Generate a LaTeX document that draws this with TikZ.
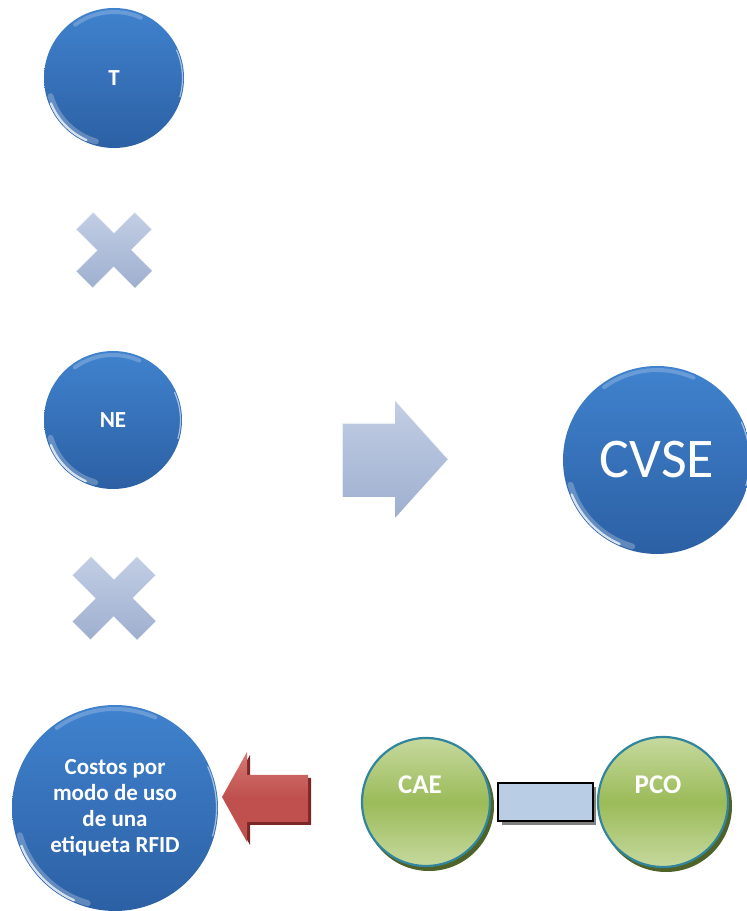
\documentclass[tikz,border=0pt]{standalone}
\usepackage{fontspec}
\setmainfont{Carlito}
\usetikzlibrary{calc}

\definecolor{bluetop}{RGB}{64,130,206}
\definecolor{bluebot}{RGB}{44,96,164}
\definecolor{steeltop}{RGB}{194,206,228}
\definecolor{steelbot}{RGB}{158,175,207}
\definecolor{redtop}{RGB}{214,120,116}
\definecolor{redmid}{RGB}{192,80,77}
\definecolor{redshadow}{RGB}{122,40,38}
\definecolor{greenlight}{RGB}{198,217,158}
\definecolor{greenmid}{RGB}{155,187,89}
\definecolor{greenrim}{RGB}{49,133,156}
\definecolor{greenshadow}{RGB}{79,98,40}
\definecolor{linkfill}{RGB}{185,205,229}

\tikzset{
  bluedisc/.style={circle, inner sep=0pt, text=white, align=center,
    top color=bluetop, bottom color=bluebot, draw=none},
  greendisc/.style={circle, inner sep=0pt, text=white,
    top color=greenlight, bottom color=greenlight, middle color=greenmid,
    draw=greenrim, line width=2.2pt},
  rimlight/.style={white, line cap=round},
  crossface/.style={top color=steeltop, bottom color=steelbot},
}

% glossy rim highlights on a blue disc: #1 centre, #2 radius
\newcommand\glossyrim[2]{%
  \begin{scope}[shift={(#1)}]
    \draw[rimlight, line width=6pt, opacity=0.25] (196:#2-4) arc[start angle=196, end angle=254, radius=#2-4];
    \draw[rimlight, line width=2.4pt, opacity=0.75] (202:#2-2) arc[start angle=202, end angle=246, radius=#2-2];
    \draw[rimlight, line width=4pt, opacity=0.22] (66:#2-4) arc[start angle=66, end angle=126, radius=#2-4];
    \draw[rimlight, line width=1.2pt, opacity=0.55] (-16:#2-1.5) arc[start angle=-16, end angle=24, radius=#2-1.5];
  \end{scope}}

% multiplication sign used between the factors
\newcommand\crossmark[2]{%
  \begin{scope}[shift={(#1)}, scale=#2]
    \path[crossface] (0,17) -- (21,38) -- (38,21) -- (17,0) -- (38,-21) -- (21,-38)
      -- (0,-17) -- (-21,-38) -- (-38,-21) -- (-17,0) -- (-38,21) -- (-21,38) -- cycle;
    \draw[white, opacity=0.8, line width=1.2pt, line join=round]
      (-38,21) -- (-21,38) (21,38) -- (38,21) (-17,0) -- (-38,-21) (0,-17) -- (-21,-38);
    \draw[white, opacity=0.5, line width=0.8pt] (-21,38) -- (0,17) -- (21,38);
  \end{scope}}

\begin{document}
\begin{tikzpicture}[x=1pt, y=1pt]
  \useasboundingbox (0,0) rectangle (747,911);

  % left column: factors
  \node[bluedisc, minimum size=140pt, font=\bfseries\fontsize{23}{26}\selectfont] (t) at (114,833) {T};
  \glossyrim{t.center}{70}
  \crossmark{114,661}{1}
  \node[bluedisc, minimum size=138pt, font=\bfseries\fontsize{23}{26}\selectfont] (ne) at (113,491) {NE};
  \glossyrim{ne.center}{69}
  \crossmark{114,313}{1.1}

  % result arrow and result
  \path[top color=steeltop, bottom color=steelbot]
    (342,488) -- (395,488) -- (395,511) -- (448,452) -- (395,393) -- (395,414) -- (342,414) -- cycle;
  \draw[white, opacity=0.7, line width=1.2pt] (342,414) -- (342,488) -- (395,488);
  \draw[white, opacity=0.7, line width=1.2pt] (395,511) -- (448,452);
  \node[bluedisc, minimum size=188pt, font=\fontsize{56}{60}\selectfont] (cvse) at (657,451) {CVSE};
  \glossyrim{cvse.center}{94}

  % bottom row
  \node[bluedisc, minimum size=206pt,
        font=\bfseries\fontsize{23}{26}\selectfont] (costos) at (115,103)
        {Costos por\\modo de uso\\de una\\etiqueta RFID};
  \glossyrim{costos.center}{103}

  % red arrow pointing at the cost disc
  \fill[redshadow] (311,133) -- (250,133) -- (250,156) -- (225,111) -- (250,66) -- (250,86) -- (311,86) -- cycle;
  \path[top color=redtop, bottom color=redmid, middle color=redmid]
    (308,136) -- (247,136) -- (247,159) -- (222,114) -- (247,69) -- (247,89) -- (308,89) -- cycle;

  % CAE -- link -- PCO
  \fill[greenshadow] (429,105) circle[radius=65];
  \fill[greenshadow] (666,105) circle[radius=66];
  \node[greendisc, minimum size=128pt] (cae) at (426,109) {};
  \node[greendisc, minimum size=130pt] (pco) at (663,109) {};
  \node[text=white, font=\bfseries\fontsize{27}{30}\selectfont] (caelabel) at (420,126) {CAE};
  \node[text=white, font=\bfseries\fontsize{27}{30}\selectfont] (pcolabel) at (658,126) {PCO};
  \fill[gray] (502,86) rectangle (596,124);
  \node[draw=black, line width=1.5pt, fill=linkfill, minimum width=95pt, minimum height=38pt,
        inner sep=0pt] (link) at (545.5,109) {};
\end{tikzpicture}
\end{document}
